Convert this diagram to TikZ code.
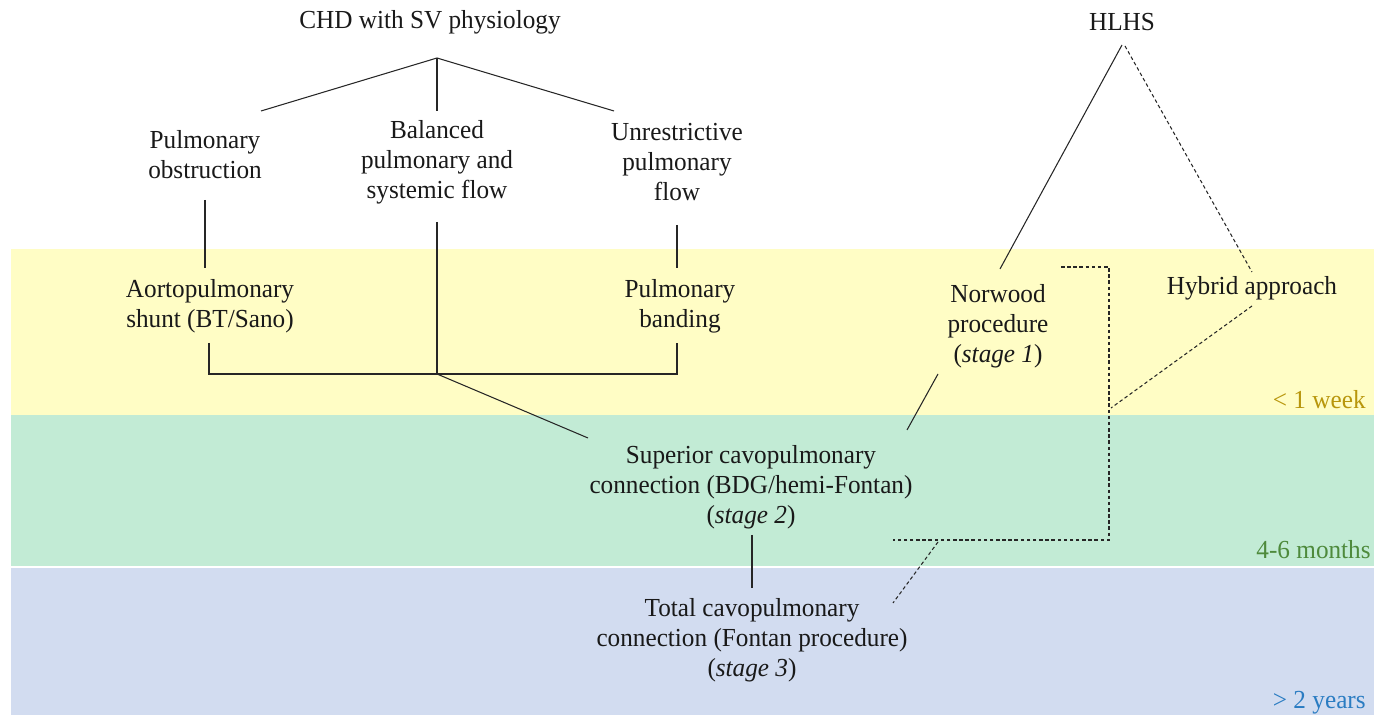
\documentclass[tikz,border=0pt]{standalone}
\usepackage{fontspec}
\setmainfont[FakeStretch = .97]{Liberation Serif}
\definecolor{weekbg}{HTML}{FFFDC5}
\definecolor{monthbg}{HTML}{C2EBD5}
\definecolor{yearbg}{HTML}{D2DCF0}
\definecolor{weektxt}{HTML}{B8960C}
\definecolor{monthtxt}{HTML}{4E8A3C}
\definecolor{yeartxt}{HTML}{2A7CC2}
\begin{document}
\begin{tikzpicture}[x = .02cm, y = -.02cm,
  box/.style = {align = center, font = \fontsize{14.8}{17}\selectfont, text = black!90, inner sep = 0pt},
  age/.style = {anchor = east, font = \fontsize{14.8}{17}\selectfont, inner sep = 0pt},
  link/.style = {black!85, line width = .6pt},
  alt/.style = {link, dash pattern = on 2pt off 1.5pt}]
	\useasboundingbox (0,0) rectangle (1374,715);
	% age bands
	\fill[weekbg] (11,249) rectangle (1374,415);
	\fill[monthbg] (11,415) rectangle (1374,567);
	\fill[yearbg] (11,567) rectangle (1374,715);
	\draw[white, line width = 1pt] (11,567) -- (1374,567);
	\node[age, text = weektxt] (week) at (1366,400) {< 1 week};
	\node[age, text = monthtxt] (months) at (1371,550) {4-6 months};
	\node[age, text = yeartxt] (years) at (1366,703) {> 2 years};
	% texts
	\node[box] (chd) at (430,22) {CHD with SV physiology};
	\node[box] (hlhs) at (1122,22) {HLHS};
	\node[box] (pobs) at (205,155) {Pulmonary\\obstruction};
	\node[box] (bal) at (437,162) {Balanced\\pulmonary and\\systemic flow};
	\node[box] (unres) at (677,162) {Unrestrictive\\pulmonary\\flow};
	\node[box] (shunt) at (210,306) {Aortopulmonary\\shunt (BT/Sano)};
	\node[box] (pband) at (680,306) {Pulmonary\\banding};
	\node[box] (norwood) at (998,326) {Norwood\\procedure\\(\textit{stage 1})};
	\node[box] (hybrid) at (1252,288) {Hybrid approach};
	\node[box] (scpc) at (751,487) {Superior cavopulmonary\\connection (BDG/hemi-Fontan)\\(\textit{stage 2})};
	\node[box] (tcpc) at (752,640) {Total cavopulmonary\\connection (Fontan procedure)\\(\textit{stage 3})};
	% line ends
	\coordinate (apex) at (437,58);
	\coordinate (split) at (437,374);
	\coordinate (top) at (1122,45);
	\coordinate (corner) at (1109,267);
	\coordinate (bend) at (1109,540);
	\coordinate (meet) at (1111,408);
	% single ventricle tree
	\draw[link] (apex)--(261,111);
	\draw[link] (apex)--(437,111);
	\draw[link] (apex)--(614,111);
	\draw[link] (205,200)--(205,268);
	\draw[link] (677,225)--(677,268);
	\draw[link] (437,222)--(split);
	\draw[link] (209,343)--(209,374)--(677,374)--(677,343);
	\draw[link] (split)--(588,438);
	\draw[link] (752,535)--(752,588);
	% HLHS branch
	\draw[link] (top)--(1000,269);
	\draw[link] (938,374)--(907,430);
	\draw[alt] (1125,46)--(1252,272);
	\draw[alt] (1252,306)--(meet);
	\draw[alt] (1061,267)--(corner)--(bend)--(893,540);
	\draw[alt] (938,542)--(893,603);
\end{tikzpicture}
\end{document}
